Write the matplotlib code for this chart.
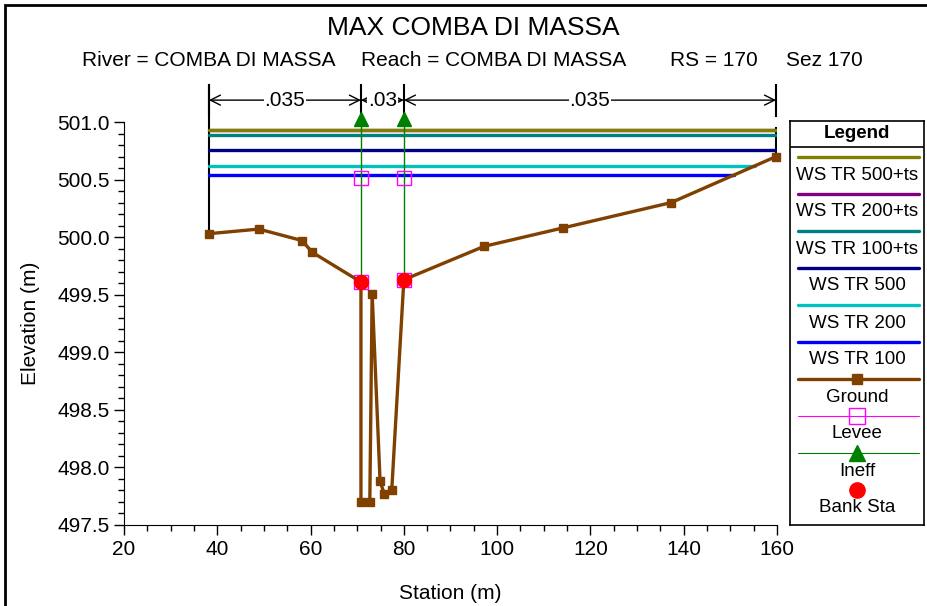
import numpy as np
import matplotlib
matplotlib.use("Agg")
import matplotlib.pyplot as plt
from matplotlib.patches import Rectangle
from matplotlib.ticker import MultipleLocator, FormatStrFormatter

plt.rcParams['font.family'] = ['Liberation Sans', 'DejaVu Sans']

# ---------------- data ----------------
ground_sta = [38.2, 48.9, 58.2, 60.3, 70.8, 70.8, 72.7, 73.2, 74.9, 75.8, 77.4, 80.0, 97.2, 114.1, 137.3, 159.8]
ground_elev = [500.03, 500.07, 499.97, 499.87, 499.61, 497.70, 497.70, 499.51, 497.88, 497.77, 497.80, 499.63, 499.92, 500.08, 500.30, 500.70]

ws_names = ["WS TR 500+ts", "WS TR 200+ts", "WS TR 100+ts", "WS TR 500", "WS TR 200", "WS TR 100"]
ws_elev = [500.93, 500.93, 500.89, 500.76, 500.62, 500.54]
ws_colors = ["#808000", "#800080", "#008080", "#000080", "#00C0C0", "#0000FF"]

bank_sta = [70.8, 80.0]
bank_elev = [499.61, 499.63]
levee_sta = [70.8, 80.0]
levee_elev = [500.51, 500.51]
ineff_sta = [70.8, 80.0]
ineff_elev = [501.03, 501.03]

n_sta = [38.2, 70.8, 80.0, 159.8]
n_vals = [".035", ".03", ".035"]

title = "MAX COMBA DI MASSA"
subtitle = ["River = COMBA DI MASSA", "Reach = COMBA DI MASSA", "RS = 170", "Sez 170"]
subtitle_x = [82, 361, 670, 786]

# ---------------- figure ----------------
W, H = 927, 606
fig = plt.figure(figsize=(W / 100, H / 100), dpi=100)
fig.patch.set_facecolor("white")

# outer frame
fig.patches.append(Rectangle((5 / W, -0.2), 1.5, 1 - 5 / H + 0.2, transform=fig.transFigure,
                             fill=False, edgecolor="black", linewidth=2.0, zorder=0))

ax = fig.add_axes([124 / W, (H - 525) / H, 653 / W, 403 / H])
ax.set_xlim(20, 160)
ax.set_ylim(497.5, 501.0)

for s in ["top", "right"]:
    ax.spines[s].set_visible(False)
ax.xaxis.set_major_locator(MultipleLocator(20))
ax.xaxis.set_minor_locator(MultipleLocator(5))
ax.yaxis.set_major_locator(MultipleLocator(0.5))
ax.yaxis.set_minor_locator(MultipleLocator(0.1))
ax.yaxis.set_major_formatter(FormatStrFormatter("%.1f"))
ax.tick_params(which="major", length=7, width=1, labelsize=15, direction="out")
ax.tick_params(which="minor", length=4, width=1, direction="out")
ax.set_xlabel("Station (m)", fontsize=15, labelpad=18)
ax.set_ylabel("Elevation (m)", fontsize=15, labelpad=12)

gs = np.array(ground_sta)
ge = np.array(ground_elev)

# boundary lines
ax.plot([gs[0], gs[0]], [ge[0], 501.32], color="black", lw=1.5, clip_on=False, zorder=2)
ax.plot([gs[-1], gs[-1]], [ge[-1], 500.95], color="black", lw=1.5, zorder=2)

# water surfaces (left end at section start, right end at ground intersection)
right_mask = gs >= 80.0
n_ws = len(ws_names)
for i, (name, e, c) in enumerate(zip(ws_names, ws_elev, ws_colors)):
    x_end = np.interp(e, ge[right_mask], gs[right_mask])
    ax.plot([gs[0], x_end], [e, e], color=c, lw=2.4, solid_capstyle="round",
            zorder=3 + (n_ws - i) * 0.01)

# ineffective flow lines
for s, e, b in zip(ineff_sta, ineff_elev, bank_elev):
    ax.plot([s, s], [b, e], color="#008000", lw=1.0, zorder=4, clip_on=False)
ax.plot(ineff_sta, ineff_elev, ls="none", marker="^", ms=10, color="#008000", zorder=6, clip_on=False)

# levee markers
ax.plot(levee_sta, levee_elev, ls="none", marker="s", ms=10, mfc="none", mec="#FF00FF", mew=1.0, zorder=5)
ax.plot(bank_sta, bank_elev, ls="none", marker="s", ms=10, mfc="none", mec="#FF00FF", mew=1.0, zorder=6)

# ground
ax.plot(gs, ge, color="#804000", lw=2.4, marker="s", ms=6, zorder=7, clip_on=False)

# bank stations
ax.plot(bank_sta, bank_elev, ls="none", marker="o", ms=10, color="#FF0000", zorder=8)

# manning's n annotation
for s in n_sta:
    ax.plot([s, s], [501.05, 501.32], color="black", lw=1.5, clip_on=False, zorder=2)
for i, v in enumerate(n_vals):
    x0, x1 = n_sta[i], n_sta[i + 1]
    ax.annotate("", xy=(x1, 501.19), xytext=(x0, 501.19), xycoords="data",
                arrowprops=dict(arrowstyle="<->", lw=1.0, color="black", shrinkA=0, shrinkB=0,
                                mutation_scale=18),
                annotation_clip=False)
    ax.text((x0 + x1) / 2, 501.19, v, ha="center", va="center", fontsize=15,
            bbox=dict(facecolor="white", edgecolor="none", pad=0.5), clip_on=False, zorder=3)

# titles
fig.text(473 / W, 1 - 28 / H, title, ha="center", va="center", fontsize=19)
for t, x in zip(subtitle, subtitle_x):
    fig.text(x / W, 1 - 60 / H, t, ha="left", va="center", fontsize=15)

# ---------------- legend ----------------
lax = fig.add_axes([790 / W, (H - 525) / H, 134 / W, 404 / H])
lax.set_xlim(0, 134)
lax.set_ylim(404, 0)
lax.set_xticks([])
lax.set_yticks([])
for s in lax.spines.values():
    s.set_linewidth(1.2)
lax.text(67, 12, "Legend", ha="center", va="center", fontsize=13.5, fontweight="bold")
lax.plot([0, 134], [26, 26], color="black", lw=1.2)

leg_labels = ws_names + ["Ground", "Levee", "Ineff", "Bank Sta"]
leg_styles = [dict(color=c, lw=2.4, marker=None) for c in ws_colors] + [
    dict(color="#804000", lw=2.4, marker="s", ms=7),
    dict(color="#FF00FF", lw=0.8, marker="s", ms=12, mfc="none", mew=1.0),
    dict(color="#008000", lw=0.8, marker="^", ms=12),
    dict(color="#FF0000", lw=0, marker="o", ms=11),
]
for i, (lab, st) in enumerate(zip(leg_labels, leg_styles)):
    y = 36 + 37 * i
    st = dict(st)
    mk = st.pop("marker")
    ms = st.pop("ms", None)
    mfc = st.pop("mfc", None)
    mew = st.pop("mew", None)
    color = st.pop("color")
    lw = st.pop("lw")
    if lw > 0:
        lax.plot([8, 129], [y, y], color=color, lw=lw, solid_capstyle="round")
    if mk is not None:
        kw = dict(ls="none", marker=mk, ms=ms, color=color)
        if mfc is not None:
            kw["mfc"] = mfc
        if mew is not None:
            kw["mew"] = mew
        lax.plot([67], [y], **kw)
    lax.text(67, y + 18, lab, ha="center", va="center", fontsize=13.5)

fig.savefig("out.png", dpi=100)
